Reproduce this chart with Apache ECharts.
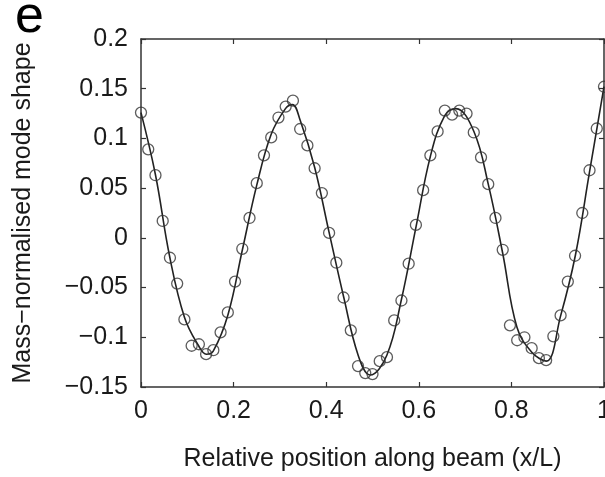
<!DOCTYPE html>
<html>
<head>
<meta charset="utf-8">
<script src="https://cdn.jsdelivr.net/npm/echarts@6/dist/echarts.min.js"></script>
<style>html,body{margin:0;padding:0;background:#fff}#c{width:605px;height:477px}</style>
</head>
<body>
<div id="c"></div>
<script>
// Measured points (circles), x = k/64
var pointX = [];
for (var k = 0; k <= 64; k++) pointX.push(k / 64);
var pointY = [0.126, 0.089, 0.063, 0.017, -0.020, -0.046, -0.082, -0.1085, -0.107, -0.117,
  -0.113, -0.095, -0.075, -0.044, -0.011, 0.020, 0.055, 0.083, 0.101, 0.121,
  0.132, 0.138, 0.1095, 0.093, 0.070, 0.045, 0.005, -0.025, -0.060, -0.093,
  -0.129, -0.136, -0.137, -0.124, -0.120, -0.083, -0.063, -0.026, 0.013, 0.048,
  0.083, 0.107, 0.128, 0.124, 0.128, 0.125, 0.106, 0.081, 0.054, 0.020,
  -0.012, -0.088, -0.103, -0.100, -0.111, -0.121, -0.123, -0.099, -0.078, -0.044,
  -0.018, 0.025, 0.068, 0.110, 0.152];

// Fitted mode-shape curve
var lineX = [0, 0.031, 0.062, 0.094, 0.125, 0.141, 0.156, 0.188, 0.219, 0.25, 0.281, 0.312, 0.327, 0.344, 0.375, 0.406, 0.438, 0.469, 0.495, 0.531, 0.562, 0.594, 0.625, 0.656, 0.68, 0.719, 0.75, 0.781, 0.812, 0.844, 0.875, 0.906, 0.938, 0.969, 1.0];
var lineY = [0.126, 0.064, -0.019, -0.080, -0.109, -0.117, -0.114, -0.077, -0.012, 0.053, 0.104, 0.130, 0.134, 0.118, 0.071, 0.006, -0.060, -0.118, -0.138, -0.118, -0.063, 0.011, 0.082, 0.123, 0.130, 0.107, 0.054, -0.015, -0.090, -0.115, -0.124, -0.079, -0.018, 0.067, 0.152];

var xTicks = [0, 0.2, 0.4, 0.6, 0.8, 1];
var yTicks = [-0.15, -0.1, -0.05, 0, 0.05, 0.1, 0.15, 0.2];

var FONT = '"Liberation Sans", Arial, sans-serif';
var TXT = '#1a1a1a';
var AX = '#333';

function fmt(v) {
  var r = parseFloat(v.toFixed(3));
  if (r === 0) return '0';
  return (r < 0 ? '\u2212' : '') + String(Math.abs(r));
}

var chart = echarts.init(document.getElementById('c'), null, {renderer: 'canvas'});
var common = {
  axisLine: {show: true, onZero: false, lineStyle: {color: AX, width: 1.5}},
  axisTick: {show: true, inside: true, length: 5, lineStyle: {color: AX, width: 1.2}},
  splitLine: {show: false}
};
chart.setOption({
  animation: false,
  backgroundColor: '#fff',
  grid: {left: 141, right: 1, top: 39, bottom: 90, containLabel: false, outerBoundsMode: 'none'},
  graphic: [{
    type: 'text', left: 15, top: -8,
    style: {text: 'e', font: '52px ' + FONT, fill: '#000'}
  }],
  xAxis: [
    Object.assign({
      type: 'value', min: xTicks[0], max: xTicks[xTicks.length - 1], interval: 0.2, position: 'bottom',
      axisLabel: {color: TXT, fontSize: 25, fontFamily: FONT, margin: 12, formatter: fmt},
      name: 'Relative position along beam (x/L)', nameLocation: 'middle', nameGap: 60,
      nameTextStyle: {color: TXT, fontSize: 25, fontFamily: FONT}
    }, common),
    Object.assign({
      type: 'value', min: xTicks[0], max: xTicks[xTicks.length - 1], interval: 0.2, position: 'top',
      axisLabel: {show: false}
    }, common)
  ],
  yAxis: [
    Object.assign({
      type: 'value', min: yTicks[0], max: yTicks[yTicks.length - 1], interval: 0.05, position: 'left',
      axisLabel: {color: TXT, fontSize: 25, fontFamily: FONT, margin: 13, formatter: fmt},
      name: 'Mass\u2212normalised mode shape', nameLocation: 'middle', nameGap: 105, nameRotate: 90,
      nameTextStyle: {color: TXT, fontSize: 25, fontFamily: FONT}
    }, common),
    Object.assign({
      type: 'value', min: yTicks[0], max: yTicks[yTicks.length - 1], interval: 0.05, position: 'right',
      axisLabel: {show: false}
    }, common)
  ],
  series: [
    {
      type: 'line', xAxisIndex: 0, yAxisIndex: 0,
      data: lineX.map(function (x, i) { return [x, lineY[i]]; }),
      smooth: 0.4, showSymbol: false, symbol: 'none',
      lineStyle: {color: '#222', width: 1.6}, z: 2
    },
    {
      type: 'scatter', xAxisIndex: 0, yAxisIndex: 0,
      data: pointX.map(function (x, i) { return [x, pointY[i]]; }),
      symbol: 'circle', symbolSize: 11,
      itemStyle: {color: 'rgba(0,0,0,0)', borderColor: '#333', borderWidth: 1.3}, z: 3
    }
  ]
});
</script>
</body>
</html>
